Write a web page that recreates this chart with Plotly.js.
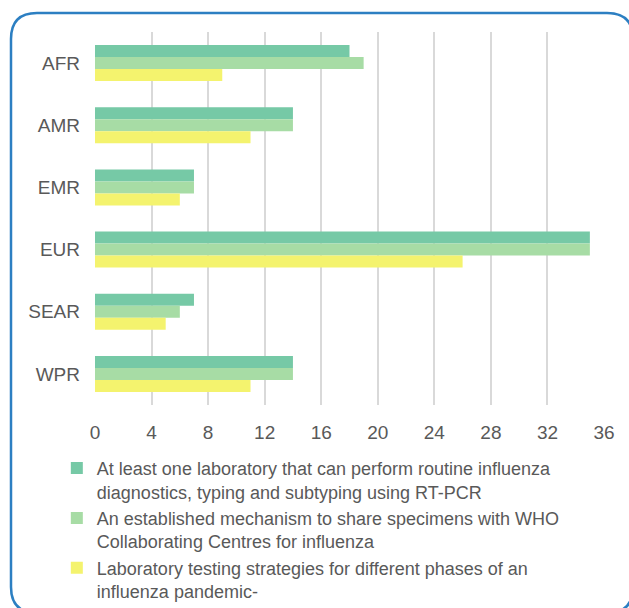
<!DOCTYPE html>
<html><head><meta charset="utf-8">
<script src="https://cdn.plot.ly/plotly-3.0.1.min.js"></script>
<style>html,body{margin:0;padding:0;background:#fff;}#chart{width:629px;height:608px;}</style>
</head><body><div id="chart"></div>
<script>
const regions = ["AFR","AMR","EMR","EUR","SEAR","WPR"];
const seriesNames = [
  "At least one laboratory that can perform routine influenza<br>diagnostics, typing and subtyping using RT-PCR",
  "An established mechanism to share specimens with WHO<br>Collaborating Centres for influenza",
  "Laboratory testing strategies for different phases of an<br>influenza pandemic-"
];
const labRtPcr = [18, 14, 7, 35, 7, 14];
const shareSpecimens = [19, 14, 7, 35, 6, 14];
const testingStrategies = [9, 11, 6, 26, 5, 11];
const colors = ["#76c9a6", "#a7dca5", "#f4f36e"];
const xTicks = [0,4,8,12,16,20,24,28,32,36];

const W = 629, H = 608, L = 95, R = 25, T = 32, B = 203;
const pw = W - L - R, ph = H - T - B;
const px = x => ((x - L) / pw).toFixed(5);
const py = y => ((H - B - y) / ph).toFixed(5);
function roundRect(x0, y0, x1, y1, r) {
  return `M${px(x0+r)},${py(y0)} L${px(x1-r)},${py(y0)} Q${px(x1)},${py(y0)} ${px(x1)},${py(y0+r)} ` +
         `L${px(x1)},${py(y1-r)} Q${px(x1)},${py(y1)} ${px(x1-r)},${py(y1)} ` +
         `L${px(x0+r)},${py(y1)} Q${px(x0)},${py(y1)} ${px(x0)},${py(y1-r)} ` +
         `L${px(x0)},${py(y0+r)} Q${px(x0)},${py(y0)} ${px(x0+r)},${py(y0)} Z`;
}

const data = [labRtPcr, shareSpecimens, testingStrategies].map((vals, i) => ({
  type: "bar", orientation: "h", x: vals, y: regions, name: seriesNames[i],
  legendgroup: "g" + i,
  marker: {color: colors[i], line: {width: 0}}, hoverinfo: "x+y"
}));

const fam = "'Liberation Sans', Arial, sans-serif";
const font = {family: fam, size: 18, color: "#595959"};
const layout = {
  width: W, height: H,
  margin: {l: L, r: R, t: T, b: B},
  paper_bgcolor: "#ffffff", plot_bgcolor: "#ffffff",
  font: font,
  barmode: "group", bargap: 0.42, bargroupgap: 0,
  showlegend: true,
  legend: {xref: "paper", yref: "container", x: -0.075, xanchor: "left", y: 0.26, yanchor: "top",
           orientation: "v", valign: "top", font: {family: fam, size: 18, color: "#595959"},
           itemwidth: 30, tracegroupgap: 0, bgcolor: "rgba(0,0,0,0)"},
  xaxis: {range: [0, 36], tickvals: xTicks, ticktext: xTicks.map(String), showgrid: true,
          gridcolor: "#d9d9d9", gridwidth: 2, zeroline: false, showline: false, ticks: "",
          ticklabelstandoff: 14, fixedrange: true, tickfont: {family: fam, size: 19, color: "#595959"}},
  yaxis: {autorange: "reversed", showgrid: false, zeroline: false, showline: false, ticks: "",
          ticklabelstandoff: 14, fixedrange: true, tickfont: {family: fam, size: 19, color: "#595959"}},
  shapes: [{type: "path", xref: "paper", yref: "paper", path: roundRect(11, 13, 633, 613, 26),
            line: {color: "#2c7fc2", width: 2.5}, fillcolor: "rgba(0,0,0,0)", layer: "above"}]
};
Plotly.newPlot("chart", data, layout, {displayModeBar: false, staticPlot: true});
</script></body></html>
